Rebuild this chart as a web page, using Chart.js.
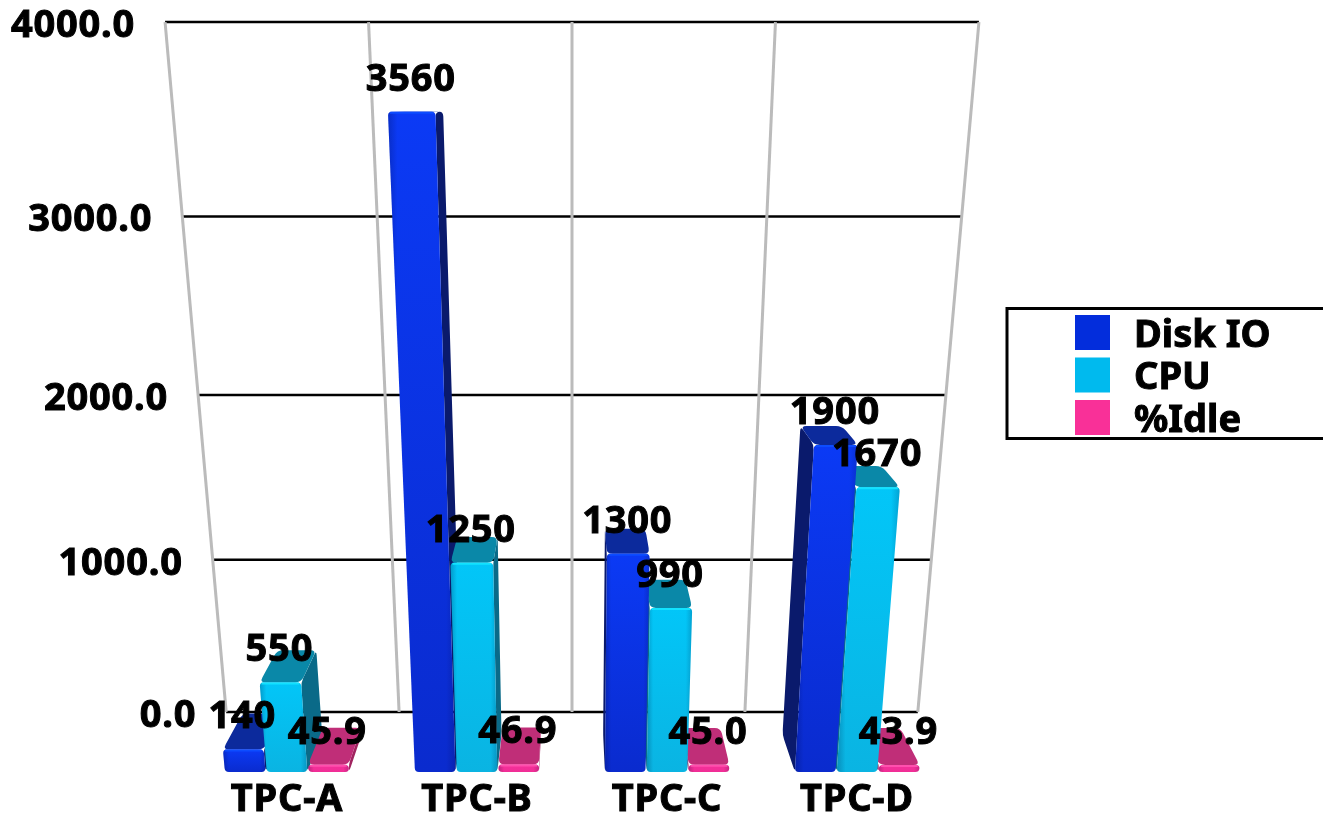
<!DOCTYPE html>
<html>
<head>
<meta charset="utf-8">
<title>TPC workloads</title>
<script src="https://cdn.jsdelivr.net/npm/chart.js@4"></script>
<style>
    html, body { margin: 0; padding: 0; background: #fff; overflow: hidden; }
    canvas { display: block; }
</style>
</head>
<body>
<canvas id="tpc" width="1323" height="815"></canvas>
<script>
const categories = ["TPC-A", "TPC-B", "TPC-C", "TPC-D"];
const diskIO = [140, 3560, 1300, 1900];
const cpu = [550, 1250, 990, 1670];
const idle = [45.9, 46.9, 45.0, 43.9];
const yTicks = [0, 1000, 2000, 3000, 4000];

const FONT_FAMILY = "'Noto Sans'";
const FONT_SIZE = 38;
const FONT = "bold " + FONT_SIZE + "px " + FONT_FAMILY;
const FONT_STROKE = 1;
const TRACKING = "0.8px";

// camera looks down on the scene: uprights converge far below the canvas,
// depth lines run to a point just under the top of the wall
const CENTER_X = 572;
const FLOOR_Y = 772;
const UPRIGHT_VANISH_Y = 4615;
const DEPTH_VANISH = { x: 573, y: 105 };
const BAR_DEPTH = 0.056;
const WALL_DEPTH = 0.09;

const palette = {
    disk: { swatch: "#032ddc", top: "#0c2a9c", side: "#0a1a6c", light: "#0b3af5", dark: "#0a2bce", edge: "#0d4cff" },
    cpu: { swatch: "#00baee", top: "#0a88a8", side: "#0a6a88", light: "#02c6f8", dark: "#0ab4e2", edge: "#12e2ff" },
    idle: { swatch: "#f93098", top: "#c02e78", side: "#a0245f", light: "#f5309a", dark: "#f02e96", edge: "#ff4fae" }
};

// linear axis whose pixels follow a projective curve instead of a straight line
class PerspectiveScale extends Chart.LinearScale {
    static id = "perspective";
    static defaults = Chart.LinearScale.defaults;
    getPixelForValue(value) {
        const { floor, slope, bend } = this.options.projection;
        return (floor + slope * value) / (1 + bend * value);
    }
}
Chart.register(PerspectiveScale);

function lean(x, y) {
    return CENTER_X + (x - CENTER_X) * (UPRIGHT_VANISH_Y - y) / (UPRIGHT_VANISH_Y - FLOOR_Y);
}

function toDepth(p, t) {
    return { x: p.x + (DEPTH_VANISH.x - p.x) * t, y: p.y + (DEPTH_VANISH.y - p.y) * t };
}

// corner radius is clamped per corner so thin faces stay clean
function roundedPath(ctx, pts, radius) {
    const n = pts.length;
    const along = (a, b, r) => {
        const len = Math.hypot(b.x - a.x, b.y - a.y) || 1;
        const d = Math.min(r, len / 2) / len;
        return { x: a.x + (b.x - a.x) * d, y: a.y + (b.y - a.y) * d };
    };
    ctx.beginPath();
    for (let i = 0; i < n; i++) {
        const p = pts[i], prev = pts[(i + n - 1) % n], next = pts[(i + 1) % n];
        const a = along(p, prev, radius), b = along(p, next, radius);
        if (i === 0) {
            ctx.moveTo(a.x, a.y);
        } else {
            ctx.lineTo(a.x, a.y);
        }
        ctx.quadraticCurveTo(p.x, p.y, b.x, b.y);
    }
    ctx.closePath();
}

function drawPrism(ctx, bar, colors) {
    const left = bar.x - bar.width / 2;
    const right = bar.x + bar.width / 2;
    const top = bar.y, base = bar.base;
    const fl = { x: lean(left, top), y: top };
    const fr = { x: lean(right, top), y: top };
    const bl = { x: left, y: base };
    const br = { x: right, y: base };
    const tl = toDepth(fl, BAR_DEPTH), tr = toDepth(fr, BAR_DEPTH);

    ctx.fillStyle = colors.side;
    if (bar.x < CENTER_X) {
        roundedPath(ctx, [fr, tr, toDepth(br, BAR_DEPTH), br], 5);
    } else {
        roundedPath(ctx, [fl, tl, toDepth(bl, BAR_DEPTH), bl], 5);
    }
    ctx.fill();

    ctx.fillStyle = colors.top;
    roundedPath(ctx, [fl, fr, tr, tl], 6);
    ctx.fill();

    const down = ctx.createLinearGradient(0, top, 0, base);
    down.addColorStop(0, colors.light);
    down.addColorStop(1, colors.dark);
    roundedPath(ctx, [fl, fr, br, bl], 4);
    ctx.fillStyle = down;
    ctx.fill();

    // edges of the face roll off a little
    const across = ctx.createLinearGradient(Math.min(fl.x, bl.x), 0, Math.max(fr.x, br.x), 0);
    across.addColorStop(0, "rgba(0,0,40,0.22)");
    across.addColorStop(0.14, "rgba(0,0,40,0)");
    across.addColorStop(0.86, "rgba(0,0,40,0)");
    across.addColorStop(1, "rgba(0,0,40,0.18)");
    ctx.fillStyle = across;
    ctx.fill();

    ctx.strokeStyle = colors.edge;
    ctx.lineWidth = 2;
    ctx.beginPath();
    ctx.moveTo(fl.x + 2, top + 1);
    ctx.lineTo(fr.x - 2, top + 1);
    ctx.stroke();
}

// fill and a hairline stroke to get the heavier weight of the labels
function heavyText(ctx, text, x, y) {
    ctx.fillText(text, x, y);
    ctx.strokeText(text, x, y);
}

function textStyle(ctx, align) {
    ctx.font = FONT;
    ctx.fillStyle = "#000";
    ctx.strokeStyle = "#000";
    ctx.lineWidth = FONT_STROKE;
    ctx.textAlign = align;
    ctx.textBaseline = "middle";
}

const wallPlugin = {
    id: "wall",
    beforeDraw(chart) {
        chart.ctx.letterSpacing = TRACKING;
    },
    beforeDatasetsDraw(chart) {
        const { ctx, scales } = chart;
        const wall = scales.y;
        const edges = [];
        for (let i = 0; i <= categories.length; i++) {
            edges.push(scales.x.getPixelForValue(i - 0.5));
        }
        const wallX = (x, y) => CENTER_X + (x - CENTER_X) * (1 - WALL_DEPTH)
            * (UPRIGHT_VANISH_Y - y) / (UPRIGHT_VANISH_Y - wall.getPixelForValue(0));

        ctx.save();
        yTicks.forEach(v => {
            const y = wall.getPixelForValue(v);
            const x0 = wallX(edges[0], y);
            const x1 = wallX(edges[edges.length - 1], y);
            ctx.strokeStyle = "#000";
            ctx.lineWidth = 2.5;
            ctx.beginPath();
            ctx.moveTo(x0, y);
            ctx.lineTo(x1, y);
            ctx.stroke();
            textStyle(ctx, "right");
            heavyText(ctx, v.toFixed(1), x0 - 30, y + 4);
        });

        ctx.strokeStyle = "#bbbbbb";
        ctx.lineWidth = 3;
        const yTop = wall.getPixelForValue(yTicks[yTicks.length - 1]);
        const yBottom = wall.getPixelForValue(0);
        edges.forEach(x => {
            ctx.beginPath();
            ctx.moveTo(wallX(x, yTop), yTop);
            ctx.lineTo(wallX(x, yBottom), yBottom);
            ctx.stroke();
        });
        ctx.restore();
    }
};

// bars overlap differently on each side of the centre, so they are painted here
const prismPlugin = {
    id: "prisms",
    beforeDatasetsDraw(chart) {
        const ctx = chart.ctx;
        const metas = chart.data.datasets.map((d, i) => chart.getDatasetMeta(i));
        categories.forEach((c, i) => {
            const order = metas[0].data[i].x < CENTER_X ? metas : metas.slice().reverse();
            order.forEach(meta => {
                drawPrism(ctx, meta.data[i], chart.data.datasets[meta.index].colors);
            });
        });

        ctx.save();
        textStyle(ctx, "center");
        chart.data.datasets.forEach((ds, d) => {
            metas[d].data.forEach((bar, i) => {
                const text = ds.data[i].toFixed(ds.decimals);
                heavyText(ctx, text, lean(bar.x, bar.y) - 1, bar.y - 32);
            });
        });
        ctx.restore();
        return false;
    }
};

const legendPlugin = {
    id: "sideLegend",
    afterDraw(chart) {
        const ctx = chart.ctx;
        ctx.save();
        ctx.letterSpacing = "0px";
        ctx.strokeStyle = "#000";
        ctx.lineWidth = 3;
        ctx.strokeRect(1007, 308.5, 340, 130);
        chart.data.datasets.forEach((ds, i) => {
            ctx.fillStyle = ds.colors.swatch;
            ctx.fillRect(1075, 315 + i * 42.5, 35, 35);
            textStyle(ctx, "left");
            heavyText(ctx, ds.label, 1134, 336 + i * 42.5);
        });
        ctx.restore();
    }
};

window.addEventListener("DOMContentLoaded", () => {
    new Chart(document.getElementById("tpc"), {
        type: "bar",
        data: {
            labels: categories,
            datasets: [
                { label: "Disk IO", data: diskIO, yAxisID: "yFront", colors: palette.disk, decimals: 0, backgroundColor: palette.disk.swatch },
                { label: "CPU", data: cpu, yAxisID: "yFront", colors: palette.cpu, decimals: 0, backgroundColor: palette.cpu.swatch },
                { label: "%Idle", data: idle, yAxisID: "yFront", colors: palette.idle, decimals: 1, backgroundColor: palette.idle.swatch }
            ]
        },
        plugins: [wallPlugin, prismPlugin, legendPlugin],
        options: {
            responsive: false,
            animation: false,
            events: [],
            layout: { padding: { left: 192, right: 371, top: 22, bottom: 0 } },
            datasets: { bar: { categoryPercentage: 0.66, barPercentage: 0.97 } },
            plugins: { legend: { display: false }, tooltip: { enabled: false } },
            scales: {
                x: {
                    grid: { display: false },
                    border: { display: false },
                    afterFit: scale => { scale.height = 43; },
                    ticks: {
                        font: { family: FONT_FAMILY, size: FONT_SIZE, weight: "bold" },
                        color: "#000",
                        textStrokeColor: "#000",
                        textStrokeWidth: FONT_STROKE,
                        padding: -3,
                        maxRotation: 0,
                        autoSkip: false
                    }
                },
                y: {
                    type: "perspective",
                    display: false,
                    min: 0,
                    max: 4000,
                    projection: { floor: 712, slope: -0.1733, bend: -3.75e-5 }
                },
                yFront: {
                    type: "perspective",
                    display: false,
                    min: 0,
                    max: 4000,
                    projection: { floor: FLOOR_Y, slope: -0.1899, bend: -3.99e-5 }
                }
            }
        }
    });
});
</script>
</body>
</html>
